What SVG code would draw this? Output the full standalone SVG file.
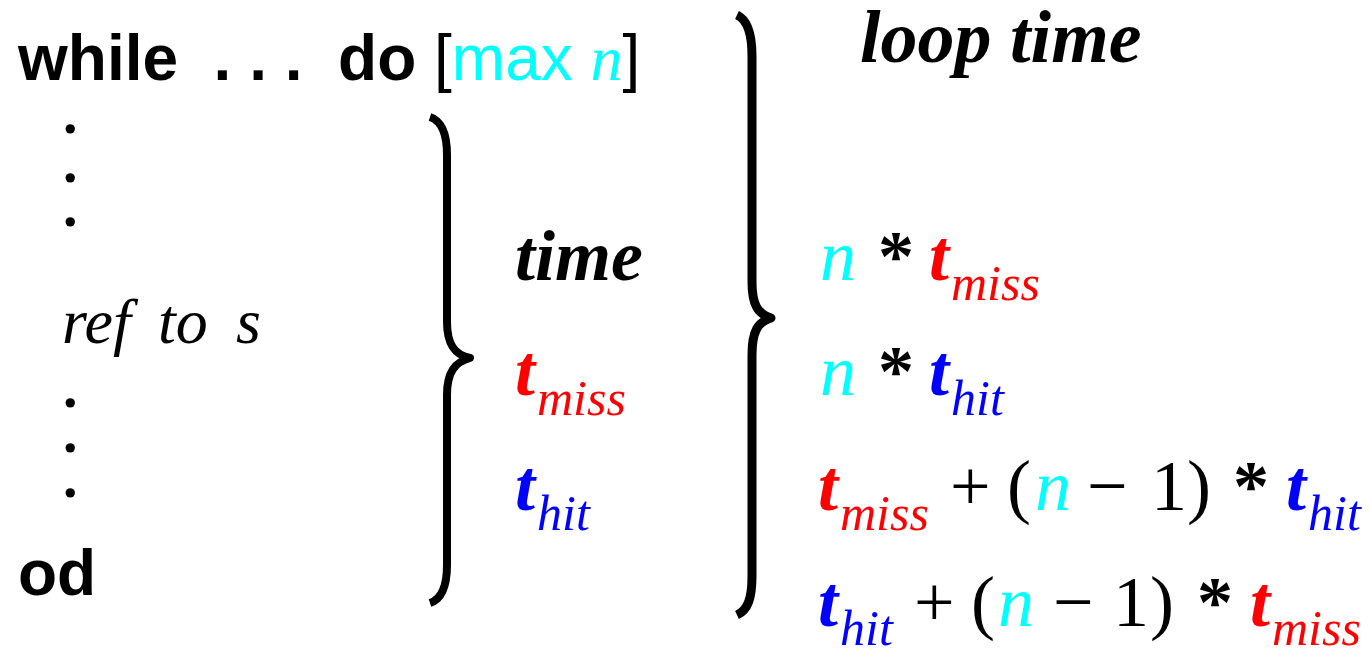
<svg xmlns="http://www.w3.org/2000/svg" width="1371" height="649" viewBox="0 0 1371 649">
<style>
.sb{font-family:"Liberation Sans",Arial,sans-serif;font-weight:bold;font-size:64px;fill:#000}
.sr{font-family:"Liberation Sans",Arial,sans-serif;font-weight:normal;font-size:64px}
.ti{font-family:"Liberation Serif","Times New Roman",serif;font-style:italic;font-weight:normal}
.tbi{font-family:"Liberation Serif","Times New Roman",serif;font-style:italic;font-weight:bold}
.tr{font-family:"Liberation Serif","Times New Roman",serif;font-style:normal;font-weight:normal;font-size:72px;fill:#000}
.ast{font-family:"Liberation Serif","Times New Roman",serif;font-weight:bold;font-size:72px;fill:#000}
.dots{font-family:"Liberation Serif","Times New Roman",serif;font-weight:bold;font-size:58px;fill:#000}
.big{font-size:72px}
.sub{font-size:50px}
.cy{fill:#00FFFF}
.rd{fill:#FF0000}
.bl{fill:#0000FF}
.k{fill:#000}
.brace{fill:none;stroke:#000;stroke-linejoin:round;stroke-linecap:butt}
</style>

<g id="code">
  <text class="sb" x="18" y="80" xml:space="preserve">while  . . .  do <tspan class="sr k">[</tspan><tspan class="sr cy">max </tspan><tspan class="ti cy" style="font-size:64px">n</tspan><tspan class="sr k">]</tspan></text>
  <text class="dots"><tspan x="63" y="133">.</tspan><tspan x="63" y="181.5">.</tspan><tspan x="63" y="226">.</tspan></text>
  <text class="ti k" style="font-size:64px" y="343"><tspan x="62">ref</tspan><tspan x="158">to</tspan><tspan x="236">s</tspan></text>
  <text class="dots"><tspan x="63" y="406.5">.</tspan><tspan x="63" y="451.5">.</tspan><tspan x="63" y="496.5">.</tspan></text>
  <text class="sb" x="18" y="595">od</text>
</g>

<g id="connectors">
  <path id="brace-inner" class="brace" stroke-width="8" d="M 430 117 C 442 121, 447 134, 447 155 L 447 322 C 447 345, 455 355, 470 358 C 455 362, 447 372, 447 395 L 447 565 C 447 586, 442 599, 430 603"/>
  <path id="brace-outer" class="brace" stroke-width="9" d="M 737 15 C 748 20, 752 35, 752 56 L 752 282 C 752 305, 758 314, 771 318 C 758 322, 752 331, 752 355 L 752 576 C 752 598, 748 610, 737 615"/>
</g>

<g id="time-col">
  <text class="tbi big k" x="515" y="280">time</text>
  <text y="395"><tspan class="tbi big rd" x="515">t</tspan><tspan class="ti sub rd" x="537" y="415">miss</tspan></text>
  <text y="510"><tspan class="tbi big bl" x="515">t</tspan><tspan class="ti sub bl" x="537" y="530">hit</tspan></text>
</g>

<g id="loop-col">
  <text class="tbi k" style="font-size:74px" x="860" y="62">loop time</text>
  <g id="row1">
    <text class="ti big cy" x="820" y="280">n</text>
    <text class="ast" x="878" y="280">*</text>
    <text class="tbi big rd" x="929" y="280">t</text>
    <text class="ti sub rd" x="951" y="300">miss</text>
  </g>
  <g id="row2">
    <text class="ti big cy" x="820" y="395">n</text>
    <text class="ast" x="878" y="395">*</text>
    <text class="tbi big bl" x="929" y="395">t</text>
    <text class="ti sub bl" x="951" y="415">hit</text>
  </g>
  <g id="row3">
    <text class="tbi big rd" x="818" y="510">t</text>
    <text class="ti sub rd" x="840" y="530">miss</text>
    <text class="tr" x="950" y="510">+</text>
    <text class="tr" x="1007" y="510">(</text>
    <text class="ti big cy" x="1035" y="510">n</text>
    <text class="tr" x="1087" y="510">−</text>
    <text class="tr" x="1151" y="510">1</text>
    <text class="tr" x="1187" y="510">)</text>
    <text class="ast" x="1233" y="510">*</text>
    <text class="tbi big bl" x="1286" y="510">t</text>
    <text class="ti sub bl" x="1308" y="530">hit</text>
  </g>
  <g id="row4">
    <text class="tbi big bl" x="818" y="626">t</text>
    <text class="ti sub bl" x="840" y="645">hit</text>
    <text class="tr" x="914" y="626">+</text>
    <text class="tr" x="971" y="626">(</text>
    <text class="ti big cy" x="998" y="626">n</text>
    <text class="tr" x="1053" y="626">−</text>
    <text class="tr" x="1113" y="626">1</text>
    <text class="tr" x="1150" y="626">)</text>
    <text class="ast" x="1197" y="626">*</text>
    <text class="tbi big rd" x="1250" y="626">t</text>
    <text class="ti sub rd" x="1272" y="645">miss</text>
  </g>
</g>
</svg>
